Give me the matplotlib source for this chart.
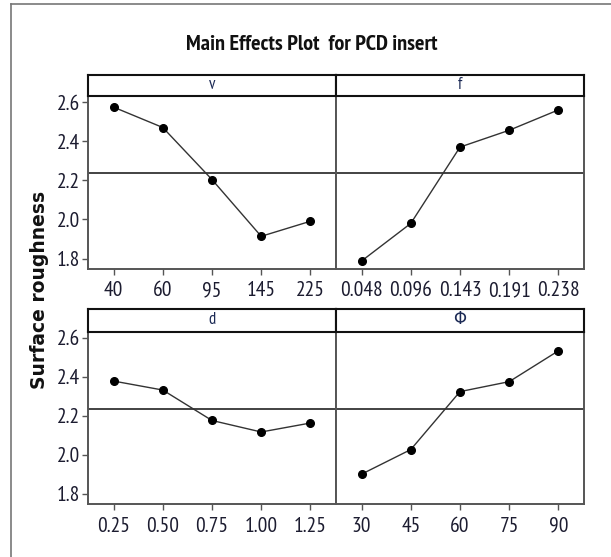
"""Main effects plot (surface roughness) for the PCD insert trials."""

import matplotlib

matplotlib.use("Agg")
import matplotlib.pyplot as plt  # noqa: E402
from matplotlib.lines import Line2D  # noqa: E402

FONT = ["PT Sans Narrow", "DejaVu Sans"]
plt.rcParams["font.family"] = FONT

# factor levels and mean response per level
FACTORS = ["v", "f", "d", "Φ"]
LEVELS = {
    "v": ["40", "60", "95", "145", "225"],
    "f": ["0.048", "0.096", "0.143", "0.191", "0.238"],
    "d": ["0.25", "0.50", "0.75", "1.00", "1.25"],
    "Φ": ["30", "45", "60", "75", "90"],
}
MEANS = {
    "v": [2.574, 2.470, 2.204, 1.914, 1.991],
    "f": [1.788, 1.980, 2.370, 2.456, 2.560],
    "d": [2.377, 2.331, 2.175, 2.116, 2.162],
    "Φ": [1.900, 2.026, 2.323, 2.374, 2.532],
}
GRAND_MEAN = 2.236
Y_TICKS = [1.8, 2.0, 2.2, 2.4, 2.6]

W, H = 611, 557
TXT = "#1c1c30"


def px_box(x0, y0, x1, y1):
    """pixel box (top-left origin) -> figure fraction rect"""
    return [x0 / W, 1 - y1 / H, (x1 - x0) / W, (y1 - y0) / H]


fig = plt.figure(figsize=(W / 100, H / 100), dpi=100)

# thin outer frame (top and left edges)
fig.add_artist(Line2D([11 / W, 1], [1 - 4 / H] * 2, color="#777777", lw=1.2))
fig.add_artist(Line2D([11 / W] * 2, [0, 1 - 4 / H], color="#777777", lw=1.2))

fig.text(312 / W, 1 - 45 / H, "Main Effects Plot  for PCD insert",
         ha="center", va="center", fontsize=16, fontweight="bold", color="#111111")
fig.text(40 / W, 1 - 290 / H, "Surface roughness", rotation=90,
         ha="center", va="center", fontsize=13.5, fontweight="bold",
         family="DejaVu Sans", color="#111111")

cols = [(88, 336), (336, 584)]
rows = [(74.5, 96, 269), (308.5, 331.5, 504)]

for i, name in enumerate(FACTORS):
    r, c = divmod(i, 2)
    x0, x1 = cols[c]
    s0, p0, p1 = rows[r]

    ax = fig.add_axes(px_box(x0, p0, x1, p1))
    xs = range(1, len(LEVELS[name]) + 1)
    ax.axhline(GRAND_MEAN, color="#222222", lw=1.2, zorder=1)
    ax.plot(xs, MEANS[name], color="#333333", lw=1.0, marker="o",
            markersize=5.5, markerfacecolor="black", markeredgecolor="black",
            zorder=3)
    ax.set_xlim(0.48, 5.52)
    ax.set_ylim(1.747, 2.631)
    ax.set_xticks(list(xs))
    ax.set_xticklabels(LEVELS[name], fontsize=15.5, color=TXT)
    ax.set_yticks(Y_TICKS)
    if c == 0:
        ax.set_yticklabels([f"{t:.1f}" for t in Y_TICKS], fontsize=15.5, color=TXT)
        ax.tick_params(axis="y", length=4, width=1, color="#555555", pad=2)
    else:
        ax.tick_params(axis="y", left=False, labelleft=False)
    ax.tick_params(axis="x", length=4, width=1, color="#555555", pad=5)
    for sp in ax.spines.values():
        sp.set_color("#555555")
        sp.set_linewidth(1.4)

    # strip header with the factor name
    st = fig.add_axes(px_box(x0, s0, x1, p0))
    st.set_xticks([])
    st.set_yticks([])
    for sp in st.spines.values():
        sp.set_color("#111111")
        sp.set_linewidth(1.5)
    st.text(0.5, 0.5, name, ha="center", va="center", fontsize=12,
            color="#1c2a55", transform=st.transAxes,
            family=["PT Sans Narrow", "DejaVu Sans"])

fig.savefig("out.png", dpi=100, facecolor="white")
